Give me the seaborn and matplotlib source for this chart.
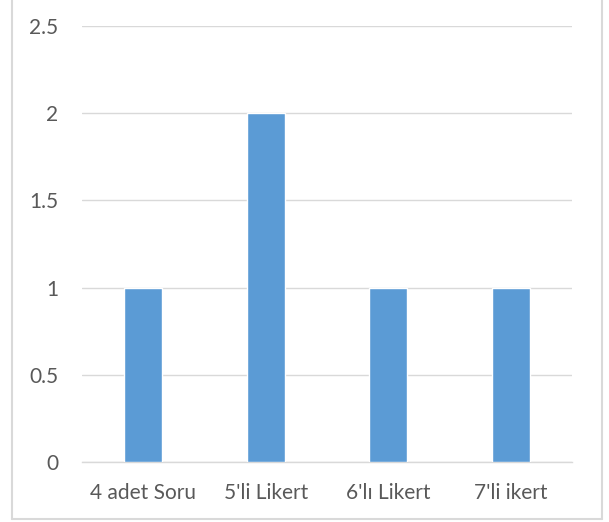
import matplotlib
matplotlib.use("Agg")
import matplotlib.pyplot as plt
import seaborn as sns
import pandas as pd
from matplotlib.lines import Line2D

categories = ["4 adet Soru", "5'li Likert", "6'lı Likert", "7'li ikert"]
values = [1, 2, 1, 1]
yticks = [0, 0.5, 1, 1.5, 2, 2.5]
ytick_labels = ["0", "0.5", "1", "1.5", "2", "2.5"]

sns.set_style("white")
plt.rcParams['font.family'] = ['Lato', 'DejaVu Sans']

fig = plt.figure(figsize=(6.09, 5.22), dpi=100)
ax = fig.add_axes([82/609, 60/522, 490/609, 436/522])

df = pd.DataFrame({"cat": categories, "val": values})
sns.barplot(data=df, x="cat", y="val", color="#5B9BD5", width=0.31, ax=ax,
            saturation=1, zorder=3)

ax.set_ylim(0, 2.5)
ax.set_xlim(-0.5, 3.5)
ax.set_yticks(yticks)
ax.set_yticklabels(ytick_labels)
ax.grid(axis="y", color="#D9D9D9", linewidth=1, zorder=0)
ax.set_axisbelow(True)
for s in ["top", "right", "left"]:
    ax.spines[s].set_visible(False)
ax.spines["bottom"].set_color("#D9D9D9")
ax.spines["bottom"].set_linewidth(1)
ax.set_xlabel("")
ax.set_ylabel("")
ax.tick_params(axis="both", length=0, labelsize=15, colors="#595959")
ax.tick_params(axis="y", pad=17)
ax.tick_params(axis="x", pad=15)

# figure border (Excel chart area)
bc = "#D9D9D9"
fig.add_artist(Line2D([12/609, 12/609], [3/522, 1.0], transform=fig.transFigure, color=bc, lw=1.5))
fig.add_artist(Line2D([602/609, 602/609], [3/522, 1.0], transform=fig.transFigure, color=bc, lw=1.5))
fig.add_artist(Line2D([12/609, 602/609], [3/522, 3/522], transform=fig.transFigure, color=bc, lw=1.5))

fig.savefig("out.png", dpi=100)
